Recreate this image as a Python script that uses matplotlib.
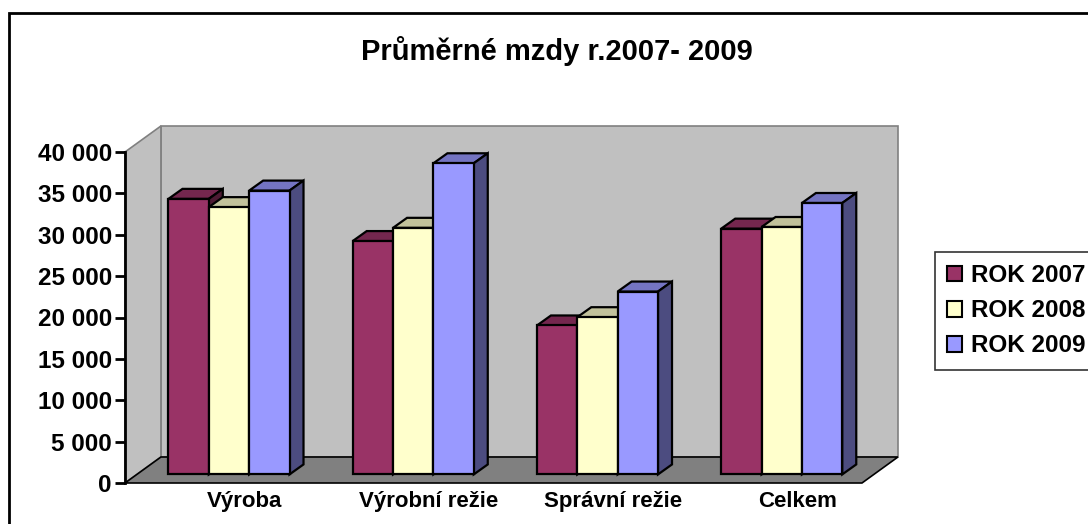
import matplotlib
matplotlib.use("agg")
import matplotlib.pyplot as plt
import numpy as np
from matplotlib.patches import Polygon, Patch, Rectangle
from matplotlib.ticker import FuncFormatter

plt.rcParams["font.family"] = ["Liberation Sans", "DejaVu Sans"]
plt.rcParams["font.weight"] = "bold"

# data
categories = ["Výroba", "Výrobní režie", "Správní režie", "Celkem"]
series_names = ["ROK 2007", "ROK 2008", "ROK 2009"]
rok_2007 = [33300, 28200, 18000, 29700]
rok_2008 = [32300, 29800, 19000, 29900]
rok_2009 = [34300, 37600, 22100, 32800]
series_values = [rok_2007, rok_2008, rok_2009]

title = "Průměrné mzdy r.2007- 2009"
y_ticks = [0, 5000, 10000, 15000, 20000, 25000, 30000, 35000, 40000]

front_colors = ["#993366", "#FFFFCC", "#9999FF"]
top_colors = ["#74274E", "#C2C29B", "#7474C2"]
side_colors = ["#4D1A33", "#80806A", "#4C4C80"]

# fake 3D projection (in data units of the front plane)
ymax = 40000
wall_dx, wall_dy = 0.195, 3142      # full depth of the chart box
bar_dx, bar_dy = 0.076, 1208        # depth of one bar
depth0 = 0.33                       # depth at which bar front faces sit
bar_w = 0.219

fig = plt.figure(figsize=(10.88, 5.24), dpi=100)
ax = fig.add_axes([125 / 1088, 41 / 524, 737 / 1088, 331 / 524])
n = len(categories)
ax.set_xlim(0, n)
ax.set_ylim(0, ymax)


def poly(points, fc, ec, lw, z):
    p = Polygon(points, closed=True, facecolor=fc, edgecolor=ec, linewidth=lw,
                zorder=z, clip_on=False, joinstyle="miter")
    ax.add_patch(p)


# walls and floor
poly([(wall_dx, wall_dy), (n + wall_dx, wall_dy), (n + wall_dx, ymax + wall_dy),
      (wall_dx, ymax + wall_dy)], "#C0C0C0", "#808080", 1.2, 0.5)
poly([(0, 0), (wall_dx, wall_dy), (wall_dx, ymax + wall_dy), (0, ymax)],
     "#C0C0C0", "#808080", 1.2, 0.6)
poly([(0, 0), (n, 0), (n + wall_dx, wall_dy), (wall_dx, wall_dy)],
     "#808080", "black", 1.2, 0.7)

# bars
sx = depth0 * wall_dx
base = depth0 * wall_dy
x = np.arange(n) + 0.5 + sx
for s, vals in enumerate(series_values):
    xs = x + (s - 1) * bar_w
    for xc, v in zip(xs, vals):
        l, r = xc - bar_w / 2, xc + bar_w / 2
        t = base + v
        poly([(l, t), (r, t), (r + bar_dx, t + bar_dy), (l + bar_dx, t + bar_dy)],
             top_colors[s], "black", 1.6, 3 + 2 * s)
        poly([(r, base), (r + bar_dx, base + bar_dy), (r + bar_dx, t + bar_dy), (r, t)],
             side_colors[s], "black", 1.6, 3 + 2 * s)
    ax.bar(xs, vals, bottom=base, width=bar_w, color=front_colors[s],
           edgecolor="black", linewidth=1.6, zorder=4 + 2 * s, clip_on=False)

# axes styling
for side in ["top", "right", "bottom"]:
    ax.spines[side].set_visible(False)
ax.spines["left"].set_linewidth(2)
ax.spines["left"].set_zorder(2.5)
ax.set_yticks(y_ticks)
ax.yaxis.set_major_formatter(FuncFormatter(lambda v, p: f"{v:,.0f}".replace(",", " ")))
ax.tick_params(axis="y", length=7, width=2, pad=2.5, labelsize=17.5)
ax.set_xticks(np.arange(n) + 0.5 + 0.15)
ax.set_xticklabels(categories, fontsize=16)
ax.tick_params(axis="x", length=0, pad=6)
ax.set_facecolor("none")

fig.text(557 / 1088, 1 - 51 / 524, title, ha="center", va="center",
         fontsize=21, fontweight="bold")

handles = [Patch(facecolor=c, edgecolor="black", linewidth=1.5) for c in front_colors]
leg = fig.legend(handles, series_names, loc="upper left",
                 bbox_to_anchor=(935 / 1088, 1 - 252 / 524), borderaxespad=0,
                 fontsize=17.5, frameon=True, fancybox=False, edgecolor="black",
                 handlelength=0.62, handleheight=0.62, handletextpad=0.35,
                 labelspacing=0.5, borderpad=0.5)
leg.get_frame().set_linewidth(1.2)

# chart area border
fig.add_artist(Rectangle((9 / 1088, -0.05), 1.2, 1 - 13 / 524 + 0.05,
                         transform=fig.transFigure, fill=False,
                         edgecolor="black", linewidth=2))

fig.savefig("out.png", dpi=100)
